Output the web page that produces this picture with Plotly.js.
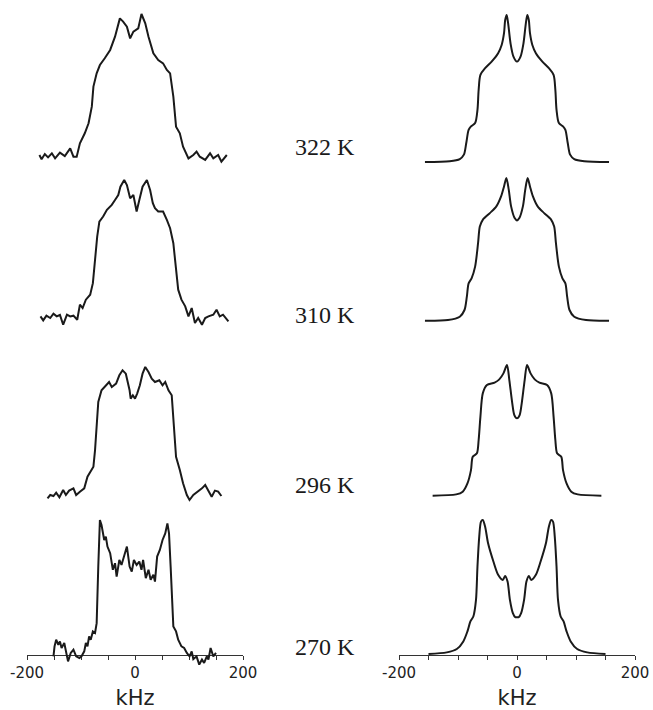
<!DOCTYPE html>
<html>
<head>
<meta charset="utf-8">
<script src="https://cdn.plot.ly/plotly-3.0.1.min.js"></script>
<style>html,body{margin:0;padding:0;background:#fff;}#chart{width:653px;height:710px;}</style>
</head>
<body>
<div id="chart"></div>
<script>
// ---------- data (kHz vs normalized intensity) ----------
var tempLabels = ["322 K", "310 K", "296 K", "270 K"];

// experimental spectra (left column)
var exp322X = [-177,-173,-167,-161,-154,-148,-139,-130,-120,-114,-108,-102,-93,-86,-80,-77,-71,-65,-56,-46,-37,-28,-22,-15,-9,-3,6,12,19,25,34,43,52,59,65,71,76,83,89,99,108,114,120,130,139,145,154,160,170];
var exp322Y = [0,-0.03,0.007,-0.017,0.012,-0.024,0.017,-0.007,0.047,-0.012,-0.012,0.083,0.154,0.225,0.343,0.485,0.579,0.638,0.686,0.745,0.839,0.969,0.946,0.910,0.827,0.875,0.898,1.0,0.934,0.839,0.721,0.674,0.650,0.603,0.579,0.414,0.201,0.154,0.059,-0.024,0,0.024,-0.012,-0.035,0.012,-0.024,0,-0.047,0];

var exp310X = [-175,-170,-164,-157,-151,-145,-139,-133,-126,-120,-114,-107,-102,-97,-91,-83,-78,-74,-70,-66,-59,-52,-43,-37,-31,-27,-20,-15,-9,-3,0,3,8,14,22,28,33,37,43,52,59,65,71,76,80,86,93,99,105,111,117,124,130,136,145,151,157,163,173];
var exp310Y = [0.019,-0.010,0.024,0.007,0.038,0.019,0.029,-0.041,0.031,0.019,0.024,-0.005,0.103,0.079,0.139,0.175,0.258,0.450,0.593,0.701,0.737,0.785,0.821,0.856,0.892,0.952,1.0,0.964,0.868,0.892,0.833,0.773,0.856,0.952,1.0,0.928,0.833,0.797,0.773,0.773,0.713,0.653,0.545,0.378,0.211,0.139,0.091,0.019,0.079,-0.029,0.007,-0.041,0.007,0.019,0.031,0.067,0.019,0.031,-0.017];

var exp296X = [-162,-157,-151,-146,-140,-133,-128,-122,-114,-109,-102,-94,-88,-82,-77,-74,-71,-68,-62,-54,-48,-43,-35,-29,-23,-17,-10,-8,-4,0,4,9,14,19,25,31,37,45,51,56,62,68,71,76,83,89,96,101,108,117,124,130,136,142,148,154,160];
var exp296Y = [-0.026,0,-0.008,0.018,-0.018,0.039,0,0.034,0.052,0,0.026,0.052,0.143,0.182,0.221,0.351,0.532,0.727,0.818,0.857,0.883,0.844,0.870,0.935,0.974,0.948,0.818,0.753,0.779,0.753,0.792,0.857,0.948,1.0,0.961,0.909,0.883,0.896,0.857,0.883,0.818,0.779,0.584,0.299,0.195,0.091,0,-0.039,0,0.026,0.052,0.078,0.026,-0.013,0.034,0.026,-0.008];

var exp270X = [-151,-149,-146,-142,-139,-136,-131,-128,-124,-119,-114,-109,-103,-99,-94,-91,-88,-85,-82,-78,-74,-71,-70,-68,-65,-62,-57,-54,-51,-46,-41,-37,-34,-29,-25,-20,-15,-10,-6,-2,3,8,12,15,20,25,29,34,37,41,46,51,56,60,63,66,69,71,76,80,86,91,96,101,105,108,114,119,124,128,133,136,140,145,150];
var exp270Y = [-0.010,0.064,0.113,0.076,0.101,0.052,0.089,0.027,-0.047,0.015,0.039,-0.010,-0.022,-0.010,0.027,0.089,0.064,0.138,0.113,0.175,0.163,0.236,0.409,0.655,1.0,0.963,0.852,0.877,0.803,0.754,0.631,0.680,0.581,0.704,0.667,0.741,0.803,0.655,0.618,0.704,0.667,0.692,0.631,0.704,0.569,0.631,0.557,0.594,0.544,0.729,0.778,0.852,0.901,0.975,0.901,0.655,0.360,0.212,0.175,0.113,0.064,0.052,0.015,-0.010,0.027,-0.030,-0.010,-0.071,-0.034,-0.059,-0.010,-0.034,0.052,-0.010,0.015];

// simulated spectra (right column)
var sim322X = [-156,-114,-97,-90,-86,-82,-78,-71,-67,-65,-62,-54,-43,-32,-26,-22,-20,-17.5,-15,-11,-6,0,6,11,15,17.5,20,22,26,32,43,54,62,65,67,71,78,82,86,90,97,114,156];
var sim322Y = [0,0.005,0.020,0.050,0.129,0.219,0.242,0.265,0.355,0.491,0.593,0.638,0.683,0.740,0.796,0.876,0.966,1.0,0.943,0.808,0.717,0.683,0.717,0.808,0.943,1.0,0.966,0.876,0.796,0.740,0.683,0.638,0.593,0.491,0.355,0.265,0.242,0.219,0.129,0.050,0.020,0.005,0];

var sim310X = [-156,-117,-97,-89,-85,-82,-77,-71,-66,-63,-58,-46,-35,-27,-22,-18,-14,-10,-4,0,4,10,14,18,22,27,35,46,58,63,66,71,77,82,85,89,97,117,156];
var sim310Y = [0,0.005,0.028,0.075,0.169,0.262,0.297,0.379,0.543,0.660,0.707,0.754,0.801,0.871,0.941,1.0,0.918,0.801,0.719,0.703,0.719,0.801,0.918,1.0,0.941,0.871,0.801,0.754,0.707,0.660,0.543,0.379,0.297,0.262,0.169,0.075,0.028,0.005,0];

var sim296X = [-143,-103,-92,-84,-78,-75,-68,-65,-62,-58,-51,-38,-30,-23,-17,-13,-8,-4.5,0,4.5,8,13,17,23,30,38,51,58,62,65,68,75,78,84,92,103,143];
var sim296Y = [0,0.010,0.031,0.094,0.196,0.298,0.324,0.426,0.605,0.783,0.847,0.865,0.890,0.936,1.0,0.885,0.707,0.617,0.592,0.617,0.707,0.885,1.0,0.936,0.890,0.865,0.847,0.783,0.605,0.426,0.324,0.298,0.196,0.094,0.031,0.010,0];

var sim270X = [-150,-119,-102,-91,-84,-79,-74,-69.5,-67,-64,-61,-58,-54,-49,-40,-32,-24,-20,-16,-12,-7,-3,0,3,7,12,16,20,24,32,40,49,54,58,61,64,67,69.5,74,79,84,91,102,119,150];
var sim270Y = [0,0.012,0.037,0.094,0.169,0.243,0.280,0.404,0.653,0.876,0.988,1.0,0.950,0.826,0.690,0.591,0.553,0.583,0.541,0.404,0.305,0.275,0.275,0.275,0.305,0.404,0.541,0.583,0.553,0.591,0.690,0.826,0.950,1.0,0.988,0.876,0.653,0.404,0.280,0.243,0.169,0.094,0.037,0.012,0];

var xTickVals = [-200, 0, 200];
var xTickText = ["-200", "0", "200"];

// ---------- layout helpers ----------
var W = 653, H = 710;
// [baseline px, peak px] for each panel
var leftPanels = [[155,14],[319,180],[495,367],[655,520]];
var rightPanels = [[162,15],[320.7,178],[495.7,365],[654,520]];
var yLo = -0.15, yHi = 1.06;

function domainFor(p){
  var base = p[0], h = p[0]-p[1];
  var bot = base - yLo*h, top = base - yHi*h;
  return [1 - bot/H, 1 - top/H];
}

var leftX = [exp322X, exp310X, exp296X, exp270X];
var leftY = [exp322Y, exp310Y, exp296Y, exp270Y];
var rightX = [sim322X, sim310X, sim296X, sim270X];
var rightY = [sim322Y, sim310Y, sim296Y, sim270Y];

var traces = [];
var layout = {
  width: W, height: H,
  margin: {l:0, r:0, t:0, b:0},
  paper_bgcolor: '#fff', plot_bgcolor: 'rgba(0,0,0,0)',
  showlegend: false,
  annotations: []
};

var axisLineY = 1 - 655/H;
function xAxis(dom){
  return {
    domain: dom, range: [-200, 200], anchor: 'free', position: axisLineY,
    showline: true, linecolor: '#333', linewidth: 1.2,
    ticks: 'outside', ticklen: 4, tickcolor: '#333', tickwidth: 1,
    tickvals: xTickVals, ticktext: xTickText,
    minor: {tickvals: [-150,-100,-50,50,100,150], ticks: 'outside', ticklen: 4, tickcolor: '#333', tickwidth: 1},
    showgrid: false, zeroline: false,
    tickfont: {family: 'DejaVu Sans, Verdana, sans-serif', size: 15, color: '#222'},
    title: {text: 'kHz', font: {family: 'DejaVu Sans, Verdana, sans-serif', size: 21, color: '#222'}, standoff: 9},
    fixedrange: true
  };
}
layout.xaxis = xAxis([27/W, 243/W]);
layout.xaxis2 = xAxis([399/W, 635/W]);

for (var i = 0; i < 4; i++) {
  var li = i + 1, ri = i + 5;
  var lname = li === 1 ? 'yaxis' : 'yaxis' + li;
  layout[lname] = {domain: domainFor(leftPanels[i]), range: [yLo, yHi], visible: false, anchor: 'x', fixedrange: true};
  layout['yaxis' + ri] = {domain: domainFor(rightPanels[i]), range: [yLo, yHi], visible: false, anchor: 'x2', fixedrange: true};
  traces.push({x: leftX[i], y: leftY[i], xaxis: 'x', yaxis: li === 1 ? 'y' : 'y' + li,
    mode: 'lines', line: {color: '#1a1a1a', width: 2}, hoverinfo: 'skip'});
  traces.push({x: rightX[i], y: rightY[i], xaxis: 'x2', yaxis: 'y' + ri,
    mode: 'lines', line: {color: '#1a1a1a', width: 2, shape: 'spline', smoothing: 0.8}, hoverinfo: 'skip'});
}

var labelY = [147, 315, 485, 647];
for (var k = 0; k < 4; k++) {
  layout.annotations.push({
    text: tempLabels[k], xref: 'paper', yref: 'paper',
    x: 325/W, y: 1 - labelY[k]/H, xanchor: 'center', yanchor: 'middle',
    showarrow: false,
    font: {family: 'Liberation Serif, Times New Roman, serif', size: 24, color: '#1a1a1a'}
  });
}

Plotly.newPlot('chart', traces, layout, {displayModeBar: false, staticPlot: true});
</script>
</body>
</html>
